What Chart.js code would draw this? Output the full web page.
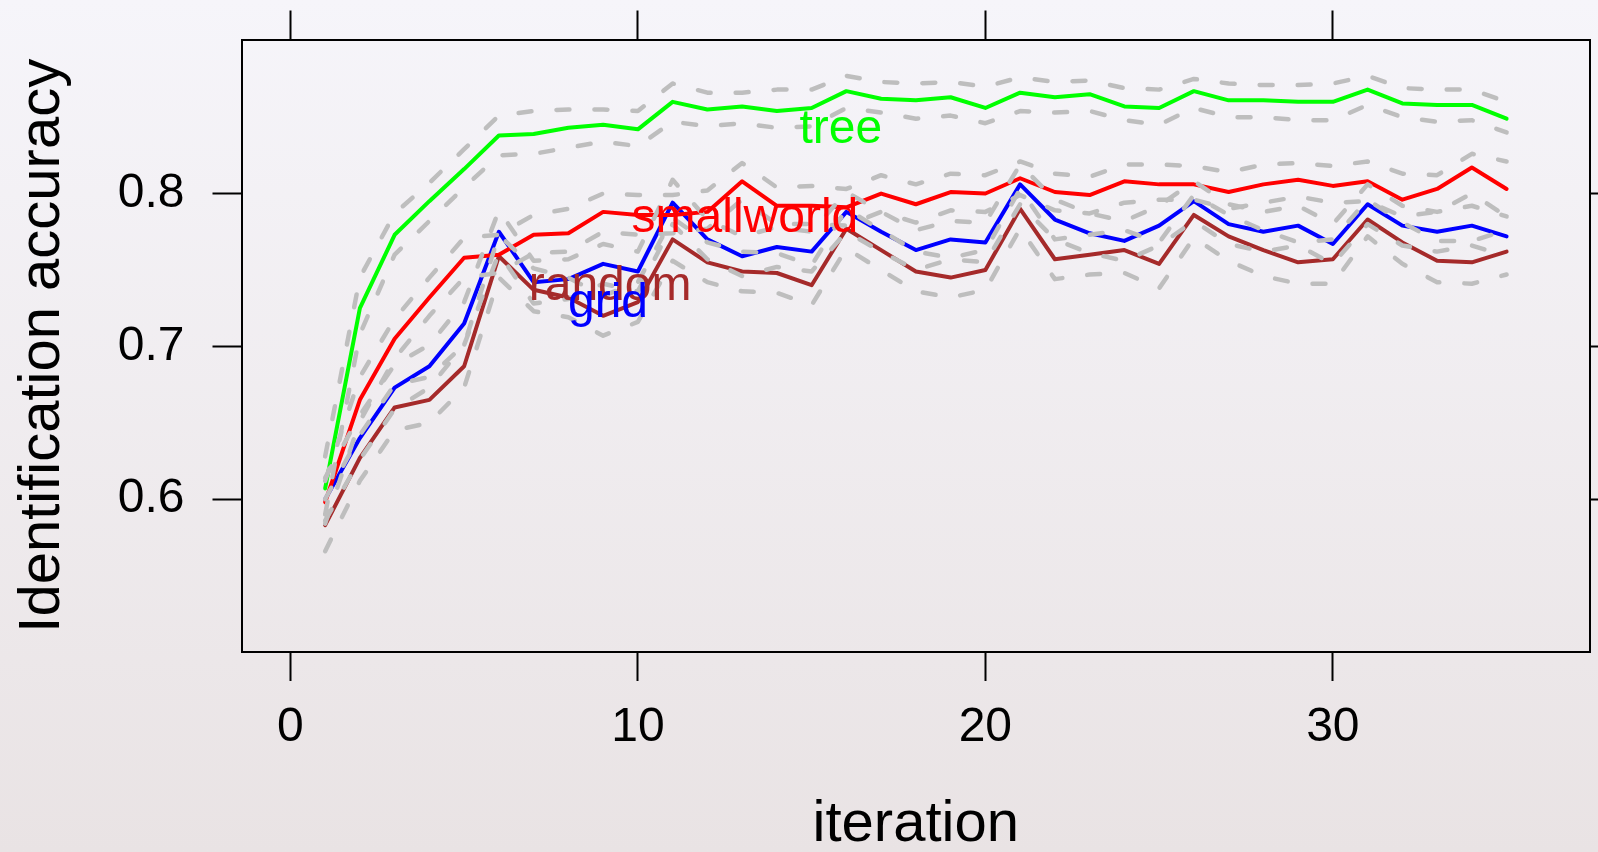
<!DOCTYPE html>
<html>
<head>
<meta charset="utf-8">
<script src="https://cdn.jsdelivr.net/npm/chart.js@4/dist/chart.umd.min.js"></script>
<style>
  html, body { margin: 0; padding: 0; }
  body {
    width: 1598px; height: 852px; overflow: hidden;
    background: linear-gradient(to bottom, #f6f5fa 0%, #e9e3e4 100%);
  }
  canvas { display: block; }
</style>
</head>
<body>
<canvas id="chart" width="1598" height="852"></canvas>
<script>
const FONT = '"Liberation Sans", Arial, Helvetica, sans-serif';

const ITERATIONS = [1, 2, 3, 4, 5, 6, 7, 8, 9, 10, 11, 12, 13, 14, 15, 16, 17, 18,
  19, 20, 21, 22, 23, 24, 25, 26, 27, 28, 29, 30, 31, 32, 33, 34, 35];

const X_TICKS = [0, 10, 20, 30];
const Y_TICKS = [0.6, 0.7, 0.8];

const tree = [0.607, 0.725, 0.773, 0.795, 0.816, 0.838, 0.839, 0.843, 0.845, 0.842,
  0.860, 0.855, 0.857, 0.854, 0.856, 0.867, 0.862, 0.861, 0.863, 0.856,
  0.866, 0.863, 0.865, 0.857, 0.856, 0.867, 0.861, 0.861, 0.860, 0.860,
  0.868, 0.859, 0.858, 0.858, 0.849];
const treeHi = [0.628, 0.745, 0.787, 0.807, 0.829, 0.851, 0.854, 0.855, 0.855, 0.854,
  0.872, 0.866, 0.866, 0.868, 0.868, 0.877, 0.873, 0.872, 0.873, 0.870,
  0.876, 0.873, 0.874, 0.869, 0.868, 0.875, 0.872, 0.871, 0.871, 0.872,
  0.877, 0.869, 0.868, 0.868, 0.860];
const treeLo = [0.590, 0.708, 0.760, 0.782, 0.804, 0.825, 0.826, 0.830, 0.834, 0.831,
  0.847, 0.844, 0.846, 0.843, 0.844, 0.856, 0.853, 0.849, 0.851, 0.846,
  0.854, 0.853, 0.854, 0.848, 0.845, 0.856, 0.850, 0.850, 0.848, 0.848,
  0.858, 0.850, 0.847, 0.848, 0.840];

const smallworld = [0.598, 0.665, 0.705, 0.732, 0.758, 0.760, 0.773, 0.774, 0.788, 0.786,
  0.786, 0.788, 0.808, 0.792, 0.792, 0.791, 0.800, 0.793, 0.801, 0.800,
  0.810, 0.801, 0.799, 0.808, 0.806, 0.806, 0.801, 0.806, 0.809, 0.805,
  0.808, 0.796, 0.803, 0.817, 0.803];
const smallworldHi = [0.612, 0.680, 0.718, 0.745, 0.771, 0.773, 0.786, 0.790, 0.800, 0.799,
  0.799, 0.802, 0.820, 0.804, 0.805, 0.803, 0.812, 0.806, 0.813, 0.812,
  0.821, 0.813, 0.811, 0.819, 0.819, 0.818, 0.814, 0.819, 0.820, 0.818,
  0.821, 0.813, 0.812, 0.826, 0.821];
const smallworldLo = [0.584, 0.651, 0.692, 0.720, 0.745, 0.748, 0.761, 0.762, 0.775, 0.773,
  0.774, 0.777, 0.796, 0.780, 0.780, 0.779, 0.788, 0.781, 0.789, 0.788,
  0.799, 0.789, 0.787, 0.794, 0.796, 0.796, 0.790, 0.794, 0.798, 0.794,
  0.795, 0.785, 0.788, 0.800, 0.785];

const grid = [0.600, 0.640, 0.673, 0.687, 0.715, 0.775, 0.742, 0.744, 0.754, 0.749,
  0.794, 0.770, 0.759, 0.765, 0.762, 0.788, 0.775, 0.763, 0.770, 0.768,
  0.806, 0.783, 0.774, 0.769, 0.779, 0.795, 0.780, 0.775, 0.779, 0.767,
  0.793, 0.779, 0.775, 0.779, 0.772];
const gridHi = [0.614, 0.655, 0.688, 0.701, 0.729, 0.789, 0.756, 0.757, 0.767, 0.762,
  0.809, 0.783, 0.772, 0.778, 0.775, 0.801, 0.788, 0.776, 0.782, 0.781,
  0.819, 0.796, 0.787, 0.782, 0.792, 0.808, 0.793, 0.788, 0.792, 0.780,
  0.806, 0.792, 0.788, 0.792, 0.785];
const gridLo = [0.586, 0.626, 0.659, 0.673, 0.701, 0.761, 0.728, 0.731, 0.741, 0.736,
  0.780, 0.757, 0.746, 0.752, 0.749, 0.775, 0.762, 0.750, 0.757, 0.755,
  0.793, 0.770, 0.761, 0.756, 0.766, 0.782, 0.767, 0.762, 0.766, 0.754,
  0.780, 0.766, 0.762, 0.766, 0.759];

const random = [0.583, 0.627, 0.660, 0.665, 0.687, 0.759, 0.737, 0.732, 0.720, 0.729,
  0.770, 0.755, 0.749, 0.748, 0.740, 0.777, 0.763, 0.749, 0.745, 0.750,
  0.790, 0.757, 0.760, 0.763, 0.754, 0.786, 0.772, 0.763, 0.755, 0.757,
  0.783, 0.768, 0.756, 0.755, 0.762];
const randomHi = [0.600, 0.642, 0.675, 0.680, 0.701, 0.773, 0.751, 0.745, 0.733, 0.742,
  0.784, 0.768, 0.762, 0.761, 0.753, 0.790, 0.776, 0.762, 0.758, 0.763,
  0.803, 0.770, 0.773, 0.776, 0.768, 0.799, 0.786, 0.776, 0.768, 0.770,
  0.796, 0.781, 0.769, 0.769, 0.776];
const randomLo = [0.566, 0.612, 0.645, 0.650, 0.673, 0.745, 0.723, 0.719, 0.707, 0.716,
  0.756, 0.742, 0.736, 0.735, 0.727, 0.764, 0.750, 0.736, 0.732, 0.737,
  0.777, 0.744, 0.747, 0.748, 0.738, 0.771, 0.756, 0.746, 0.741, 0.741,
  0.772, 0.754, 0.742, 0.741, 0.747];

// direct labels, anchored in data coordinates (centre x, baseline y)
const SERIES_LABELS = [
  { text: 'tree',       x: 15.84, y: 0.8329, color: '#00ff00' },
  { text: 'smallworld', x: 13.08, y: 0.7751, color: '#ff0000' },
  { text: 'random',     x: 9.20,  y: 0.7304, color: '#a52a2a' },
  { text: 'grid',       x: 9.14,  y: 0.7195, color: '#0000ff' },
];

const pts = (arr) => ITERATIONS.map((it, i) => ({ x: it, y: arr[i] }));

function mainLine(label, arr, color) {
  return {
    label, data: pts(arr), borderColor: color, borderWidth: 4,
    pointRadius: 0, fill: false, tension: 0, order: 2,
    borderJoinStyle: 'round', borderCapStyle: 'round',
  };
}
function band(label, arr) {
  return {
    label, data: pts(arr), borderColor: '#bebebe', borderWidth: 4.5,
    borderDash: [13, 25], borderCapStyle: 'round', borderJoinStyle: 'round',
    pointRadius: 0, fill: false, tension: 0, order: 1,
  };
}

const labelPlugin = {
  id: 'seriesLabels',
  afterDatasetsDraw(chart) {
    const { ctx, scales: { x, y } } = chart;
    ctx.save();
    ctx.font = `48px ${FONT}`;
    ctx.textAlign = 'center';
    ctx.textBaseline = 'alphabetic';
    SERIES_LABELS.forEach(l => {
      ctx.fillStyle = l.color;
      ctx.fillText(l.text, x.getPixelForValue(l.x), y.getPixelForValue(l.y));
    });
    ctx.restore();
  },
};

const fixTicks = (vals) => (scale) => { scale.ticks = vals.map(v => ({ value: v })); };
// pin the axis box sizes so the plot frame lands where the original has it
const fixSize = (prop, size) => (s) => {
  s[prop] = size;
  s.paddingTop = 0; s.paddingBottom = 0; s.paddingLeft = 0; s.paddingRight = 0;
};
const axisGrid = { drawOnChartArea: false, drawTicks: true, tickLength: 29, tickWidth: 2, tickColor: '#000' };
const axisBorder = { display: true, color: '#000', width: 2 };

new Chart(document.getElementById('chart').getContext('2d'), {
  type: 'line',
  data: {
    datasets: [
      mainLine('tree', tree, '#00ff00'),
      mainLine('smallworld', smallworld, '#ff0000'),
      mainLine('grid', grid, '#0000ff'),
      mainLine('random', random, '#a52a2a'),
      band('tree upper', treeHi), band('tree lower', treeLo),
      band('smallworld upper', smallworldHi), band('smallworld lower', smallworldLo),
      band('grid upper', gridHi), band('grid lower', gridLo),
      band('random upper', randomHi), band('random lower', randomLo),
    ],
  },
  options: {
    responsive: false,
    animation: false,
    events: [],
    layout: { padding: 0, autoPadding: false },
    plugins: { legend: { display: false }, tooltip: { enabled: false } },
    scales: {
      x: {
        type: 'linear', position: 'bottom', min: -1.407, max: 37.40,
        afterBuildTicks: fixTicks(X_TICKS),
        afterFit: fixSize('height', 200),
        grid: axisGrid, border: axisBorder,
        ticks: { color: '#000', font: { family: FONT, size: 48 }, padding: 18, maxRotation: 0, minRotation: 0 },
        title: { display: true, text: 'iteration', color: '#000',
                 font: { family: FONT, size: 58, lineHeight: 1 }, padding: { top: 0, bottom: -2 } },
      },
      x2: {
        type: 'linear', position: 'top', min: -1.407, max: 37.40,
        afterBuildTicks: fixTicks(X_TICKS),
        afterFit: fixSize('height', 39.5),
        grid: axisGrid, border: axisBorder,
        ticks: { display: false },
      },
      y: {
        type: 'linear', position: 'left', min: 0.5, max: 0.9008,
        afterBuildTicks: fixTicks(Y_TICKS),
        afterFit: fixSize('width', 241.5),
        grid: axisGrid, border: axisBorder,
        ticks: { color: '#000', font: { family: FONT, size: 48 }, padding: 28,
                 callback: (v) => v.toFixed(1) },
        title: { display: true, text: 'Identification accuracy', color: '#000',
                 font: { family: FONT, size: 58, lineHeight: 1.2 }, padding: { top: 8, bottom: 0 } },
      },
      y2: {
        type: 'linear', position: 'right', min: 0.5, max: 0.9008,
        afterBuildTicks: fixTicks(Y_TICKS),
        afterFit: fixSize('width', 8),
        grid: axisGrid, border: axisBorder,
        ticks: { display: false },
      },
    },
  },
  plugins: [labelPlugin],
});
</script>
</body>
</html>
